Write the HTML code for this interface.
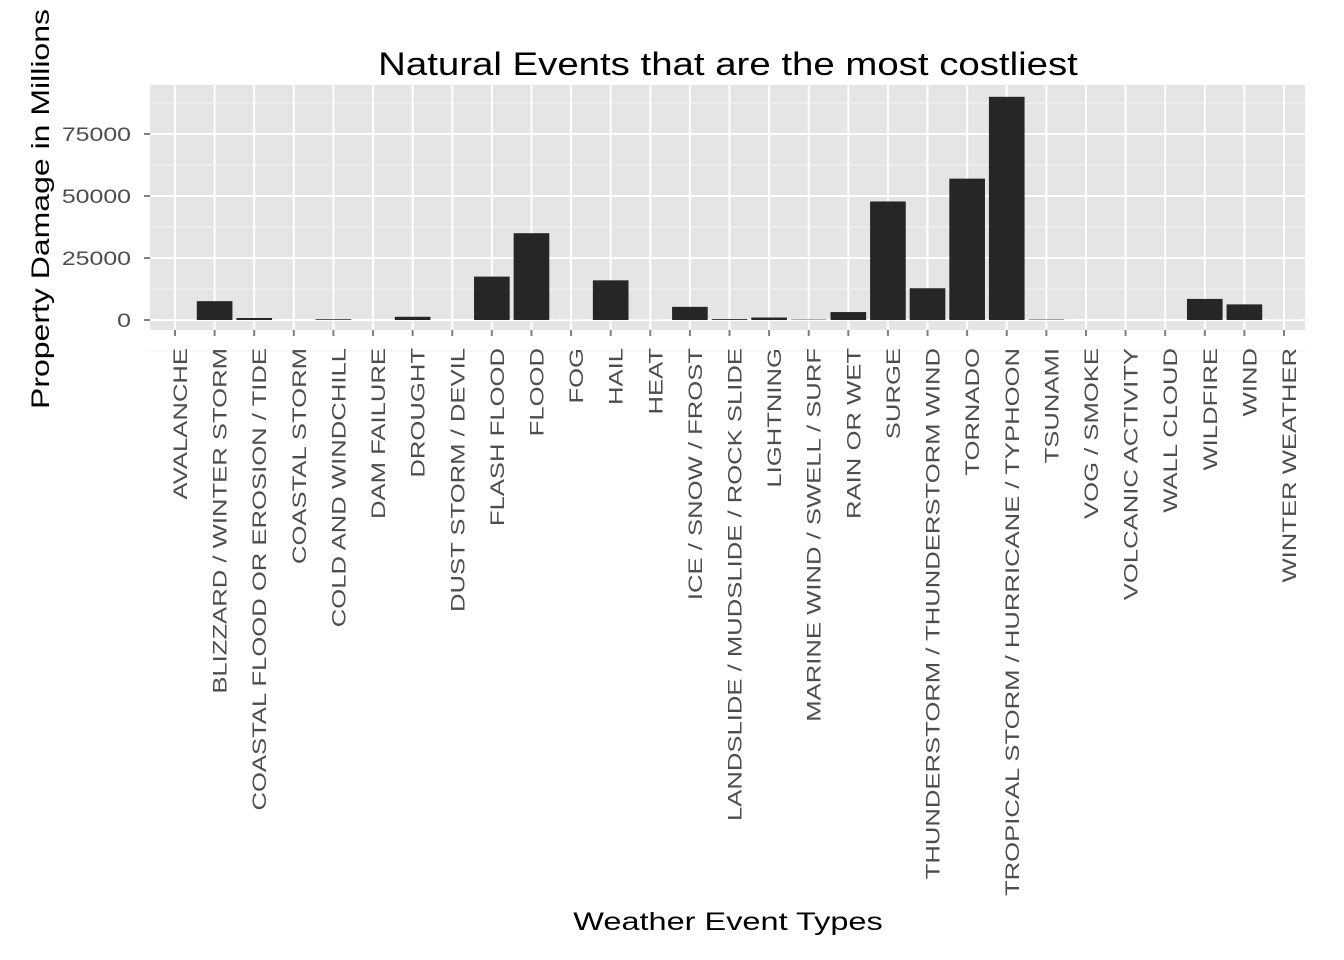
<!DOCTYPE html>
<html><head><meta charset="utf-8"><style>body{margin:0;background:#fff}svg{display:block}</style></head>
<body>
<svg id="chart" width="1344" height="960" xmlns="http://www.w3.org/2000/svg" font-family="Liberation Sans, sans-serif"></svg>
<script>
const categories=["AVALANCHE","BLIZZARD / WINTER STORM","COASTAL FLOOD OR EROSION / TIDE","COASTAL STORM","COLD AND WINDCHILL","DAM FAILURE","DROUGHT","DUST STORM / DEVIL","FLASH FLOOD","FLOOD","FOG","HAIL","HEAT","ICE / SNOW / FROST","LANDSLIDE / MUDSLIDE / ROCK SLIDE","LIGHTNING","MARINE WIND / SWELL / SURF","RAIN OR WET","SURGE","THUNDERSTORM / THUNDERSTORM WIND","TORNADO","TROPICAL STORM / HURRICANE / TYPHOON","TSUNAMI","VOG / SMOKE","VOLCANIC ACTIVITY","WALL CLOUD","WILDFIRE","WIND","WINTER WEATHER"];
const damage=[4,7600,800,0,300,1,1300,1,17500,35000,20,16000,20,5300,350,1000,150,3200,47800,12800,57000,90000,170,0,0,0,8500,6300,20];
const yTicks=[0,25000,50000,75000];
const yTickLabels=["0","25000","50000","75000"];
const S="http://www.w3.org/2000/svg",svg=document.getElementById('chart');
const L=150,R=1305,T=85,B=330;
const x0=175,step=(1284-175)/28,bw=step*0.9;
const xs=i=>x0+i*step;
const ys=v=>320-v*62/25000;
function mk(t,a,p){const e=document.createElementNS(S,t);for(const k in a)e.setAttribute(k,a[k]);(p||svg).appendChild(e);return e;}
let e;
e=mk('rect',{x:L,y:T,width:R-L,height:B-T,fill:'#e5e5e5'});


for(let i=0;i<yTicks.length;i++){
  const mv=yTicks[i]+12500;
  if(ys(mv)>T){e=mk('line',{x1:L,x2:R,y1:ys(mv),y2:ys(mv),stroke:'#f2f2f2','stroke-width':1});}
  e=mk('line',{x1:L,x2:R,y1:ys(yTicks[i]),y2:ys(yTicks[i]),stroke:'#fff','stroke-width':2});
  
  
  e=mk('line',{x1:L-6,x2:L,y1:ys(yTicks[i]),y2:ys(yTicks[i]),stroke:'#7f7f7f','stroke-width':2});
  
  
  e=mk('text',{transform:`translate(${L-19},${ys(yTicks[i])+7}) scale(1.31,1)`,'text-anchor':'end','font-size':19,fill:'#4d4d4d'});
  e.textContent=yTickLabels[i];
  
  
}
e=mk('line',{x1:L,x2:R,y1:ys(-12500),y2:ys(-12500),stroke:'#f2f2f2'});
categories.forEach((c,i)=>{
  const x=xs(i);
  e=mk('line',{x1:x,x2:x,y1:T,y2:B,stroke:'#fff','stroke-width':2});
  
  
});
categories.forEach((c,i)=>{
  const x=xs(i),v=damage[i];
  if(v>0){
    e=mk('rect',{x:x-bw/2,y:ys(v),width:bw,height:ys(0)-ys(v),fill:'#262626'});
    
    
  }
  e=mk('line',{x1:x,x2:x,y1:B,y2:B+6,stroke:'#7f7f7f','stroke-width':2});
  
  
  e=mk('text',{transform:`translate(${x+12},${B+18}) rotate(-90) scale(1.35,1)`,'text-anchor':'end','font-size':19,fill:'#4d4d4d'});
  e.textContent=c;
  
  
});
e=mk('text',{transform:'translate(728,75) scale(1.2,1)','text-anchor':'middle','font-size':32,fill:'#000'});
e.textContent='Natural Events that are the most costliest';


e=mk('text',{transform:'translate(728,930) scale(1.3,1)','text-anchor':'middle','font-size':25,fill:'#000'});
e.textContent='Weather Event Types';


e=mk('text',{transform:'translate(49,209) rotate(-90) scale(1.28,1)','text-anchor':'middle','font-size':25,fill:'#000'});
e.textContent='Property Damage in Millions';


</script>
</body></html>
